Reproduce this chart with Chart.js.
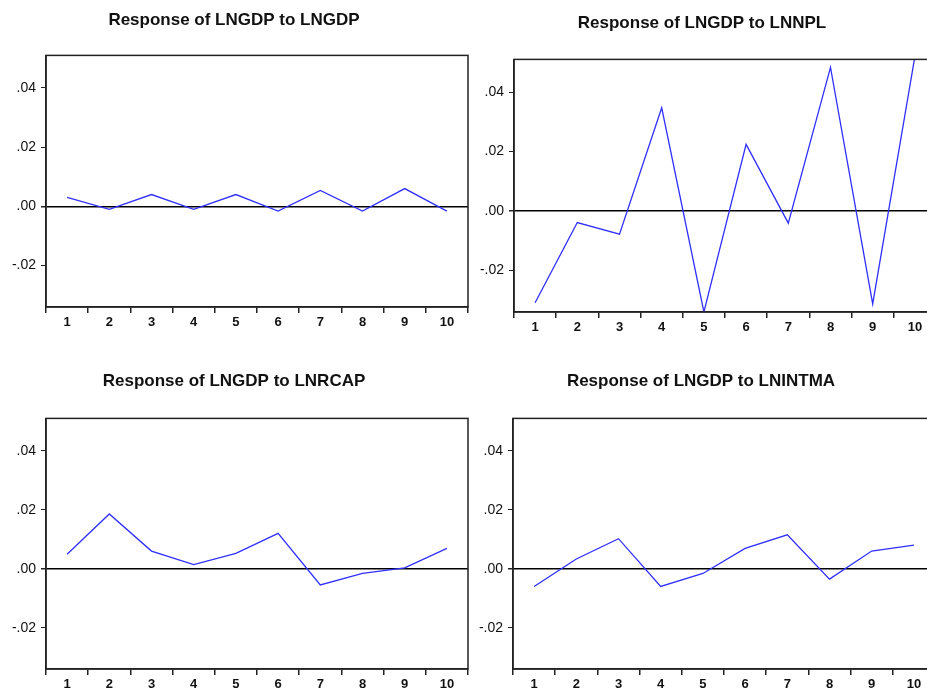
<!DOCTYPE html>
<html>
<head>
<meta charset="utf-8">
<script src="https://cdn.jsdelivr.net/npm/chart.js@4.4.1/dist/chart.umd.min.js"></script>
<style>
  html, body { margin: 0; padding: 0; background: #fff; overflow: hidden; width: 927px; height: 692px; }
  .panel { position: absolute; }
</style>
</head>
<body>
<div class="panel" style="left:0px;top:0px;width:510px;height:340px"><canvas id="c1"></canvas></div>
<div class="panel" style="left:468px;top:0px;width:510px;height:345px"><canvas id="c2"></canvas></div>
<div class="panel" style="left:0px;top:360px;width:510px;height:340px"><canvas id="c3"></canvas></div>
<div class="panel" style="left:467px;top:360px;width:510px;height:340px"><canvas id="c4"></canvas></div>
<script>
// impulse responses
const periods = ['1', '2', '3', '4', '5', '6', '7', '8', '9', '10'];
const toLngdp = [0.0030, -0.0010, 0.0040, -0.0010, 0.0040, -0.0016, 0.0054, -0.0016, 0.0060, -0.0016];
const toLnnpl = [-0.0309, -0.0039, -0.0078, 0.0347, -0.0340, 0.0224, -0.0041, 0.0483, -0.0313, 0.0520];
const toLnrcap = [0.0049, 0.0186, 0.0060, 0.0014, 0.0052, 0.0120, -0.0055, -0.0016, 0.0003, 0.0069];
const toLnintma = [-0.0060, 0.0033, 0.0102, -0.0060, -0.0016, 0.0069, 0.0115, -0.0035, 0.0060, 0.0080];
const yTickValues = [-0.02, 0, 0.02, 0.04];
const yMin = -0.034, yMax = 0.051;

const FONT = "'Liberation Sans', Arial, sans-serif";

// frame round the plot area
const framePlugin = {
    id: 'frame',
    afterDraw(chart) {
        const a = chart.chartArea;
        const ctx = chart.ctx;
        ctx.save();
        ctx.strokeStyle = '#222';
        ctx.lineWidth = 1.5;
        ctx.strokeRect(a.left, a.top, a.right - a.left, a.bottom - a.top);
        ctx.restore();
    }
};

function makePanel(id, title, values, titleTop, titleBottom, bottomPad) {
    const ctx = document.getElementById(id).getContext('2d');
    return new Chart(ctx, {
        type: 'line',
        data: {
            labels: periods,
            datasets: [{
                data: values,
                borderColor: '#3030ff',
                borderWidth: 1.3,
                pointRadius: 0,
                tension: 0,
                fill: false
            }]
        },
        options: {
            responsive: true,
            maintainAspectRatio: false,
            animation: false,
            layout: { padding: { left: 0, right: 42, top: 0, bottom: bottomPad } },
            plugins: {
                legend: { display: false },
                tooltip: { enabled: false },
                title: {
                    display: true,
                    text: title,
                    color: '#111',
                    font: { family: FONT, size: 17, weight: 'bold', lineHeight: 1.2 },
                    padding: { top: titleTop, bottom: titleBottom }
                }
            },
            scales: {
                x: {
                    offset: true,
                    border: { display: true, color: '#222', width: 1.5 },
                    grid: {
                        offset: true,
                        drawOnChartArea: false,
                        drawTicks: true,
                        tickLength: 6,
                        tickColor: '#222',
                        lineWidth: 1.5
                    },
                    ticks: {
                        color: '#111',
                        padding: 2,
                        maxRotation: 0,
                        autoSkip: false,
                        font: { family: FONT, size: 13, weight: 'bold' }
                    },
                    afterFit: s => { s.height = 30; }
                },
                y: {
                    min: yMin,
                    max: yMax,
                    border: { display: true, color: '#222', width: 1.5 },
                    grid: {
                        drawOnChartArea: true,
                        drawTicks: true,
                        tickLength: 5,
                        tickColor: '#222',
                        lineWidth: c => (c.tick && c.tick.value === 0 ? 1.5 : 1),
                        color: c => (c.tick && c.tick.value === 0 ? '#000' : 'rgba(0,0,0,0)')
                    },
                    afterBuildTicks: s => { s.ticks = yTickValues.map(v => ({ value: v })); },
                    ticks: {
                        color: '#111',
                        padding: 5,
                        font: { family: FONT, size: 14 },
                        callback: v => v.toFixed(2).replace('0.', '.')
                    },
                    afterFit: s => { s.width = 46; }
                }
            }
        },
        plugins: [framePlugin]
    });
}

makePanel('c1', 'Response of LNGDP to LNGDP', toLngdp, 10, 25, 3);
makePanel('c2', 'Response of LNGDP to LNNPL', toLnnpl, 13, 26, 3);
makePanel('c3', 'Response of LNGDP to LNRCAP', toLnrcap, 11, 27, 1);
makePanel('c4', 'Response of LNGDP to LNINTMA', toLnintma, 11, 27, 1);
</script>
</body>
</html>
